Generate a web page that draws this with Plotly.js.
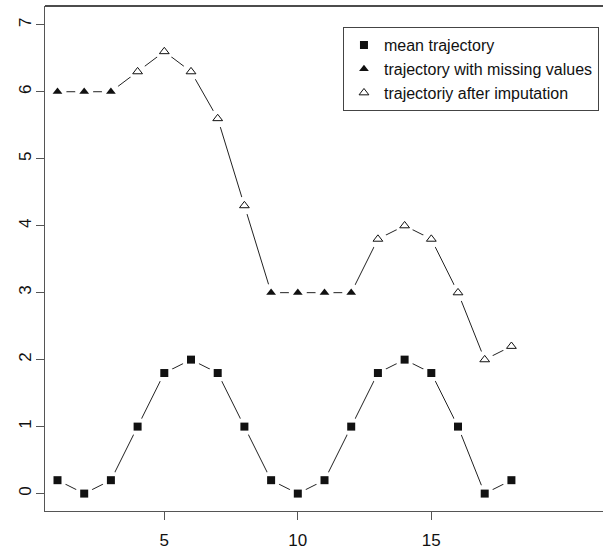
<!DOCTYPE html>
<html>
<head>
<meta charset="utf-8">
<script src="https://cdn.plot.ly/plotly-3.0.1.min.js"></script>
<style>html,body{margin:0;padding:0;background:#fff;}#chart{width:603px;height:554px;}</style>
</head>
<body>
<div id="chart"></div>
<script>
// Data
var time = [1,2,3,4,5,6,7,8,9,10,11,12,13,14,15,16,17,18];
var meanTrajectory = [0.2,0,0.2,1,1.8,2,1.8,1,0.2,0,0.2,1,1.8,2,1.8,1,0,0.2];
var trajectoryAfterImputation = [6,6,6,6.3,6.6,6.3,5.6,4.3,3,3,3,3,3.8,4.0,3.8,3.0,2.0,2.2];
var missingFlag = [1,1,1,0,0,0,0,0,1,1,1,1,0,0,0,0,0,0]; // 1 = observed in trajectory with missing values
var legendNames = ["mean trajectory", "trajectory with missing values", "trajectoriy after imputation"];
var xTicks = [5,10,15];
var yTicks = [0,1,2,3,4,5,6,7];

var obsX = [], obsY = [], impX = [], impY = [];
for (var i = 0; i < time.length; i++) {
  if (missingFlag[i]) { obsX.push(time[i]); obsY.push(trajectoryAfterImputation[i]); }
  else { impX.push(time[i]); impY.push(trajectoryAfterImputation[i]); }
}

var lineStyle = {color: '#222', width: 1};
var traces = [
  {x: time, y: meanTrajectory, mode: 'lines', line: lineStyle, showlegend: false, hoverinfo: 'skip'},
  {x: time, y: trajectoryAfterImputation, mode: 'lines', line: lineStyle, showlegend: false, hoverinfo: 'skip'},
  // white gaps around points (R type="b")
  {x: time.concat(time), y: meanTrajectory.concat(trajectoryAfterImputation), mode: 'markers',
   marker: {symbol: 'circle', size: 18, color: '#fff', line: {width: 0}}, showlegend: false, hoverinfo: 'skip'},
  {x: time, y: meanTrajectory, mode: 'markers', name: legendNames[0],
   marker: {symbol: 'square', size: 8, color: '#111', line: {width: 0}}},
  {x: obsX, y: obsY, mode: 'markers', name: legendNames[1],
   marker: {symbol: 'triangle-up', size: 8.5, color: '#111', line: {width: 0}}},
  {x: impX, y: impY, mode: 'markers', name: legendNames[2],
   marker: {symbol: 'triangle-up-open', size: 8.5, color: '#111', line: {width: 1, color: '#111'}}}
];

var layout = {
  width: 603, height: 554,
  margin: {l: 45, r: 0, t: 6, b: 43},
  paper_bgcolor: '#fff', plot_bgcolor: '#fff',
  font: {family: 'Liberation Sans, Arial, sans-serif', color: '#111', size: 16},
  showlegend: true,
  legend: {x: 0.534, y: 0.958, xanchor: 'left', yanchor: 'top', bgcolor: '#fff',
           bordercolor: '#444', borderwidth: 1, font: {size: 16, color: '#111'}, itemwidth: 30},
  xaxis: {range: [0.532, 21.43], tickvals: xTicks, ticktext: xTicks.map(String), showgrid: false, zeroline: false,
          showline: true, linecolor: '#555', linewidth: 1, ticks: 'outside', ticklen: 8, tickcolor: '#555',
          tickfont: {size: 17, color: '#111'}, ticklabelstandoff: 6},
  yaxis: {range: [-0.26, 7.28], tickvals: yTicks, ticktext: yTicks.map(String), showgrid: false, zeroline: false,
          showline: true, linecolor: '#555', linewidth: 1, ticks: 'outside', ticklen: 8, tickcolor: '#555',
          tickangle: -90, tickfont: {size: 17, color: '#111'}, ticklabelstandoff: -2},
  shapes: [{type: 'line', xref: 'paper', yref: 'paper', x0: 0, x1: 1, y0: 1, y1: 1, line: {color: '#111', width: 1.5}}]
};

Plotly.newPlot('chart', traces, layout, {displayModeBar: false, staticPlot: true});
</script>
</body>
</html>
